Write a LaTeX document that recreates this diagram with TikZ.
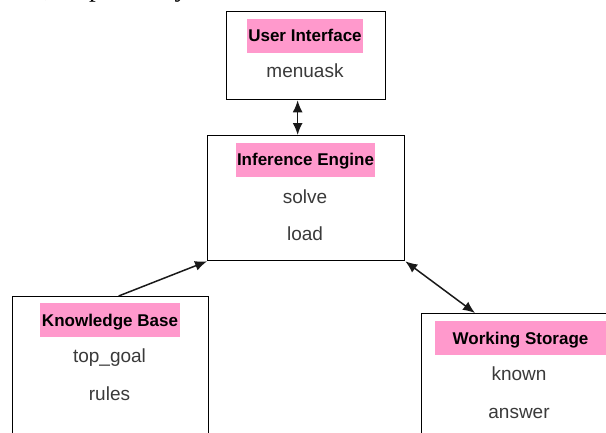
\documentclass[tikz,border=0pt]{standalone}
\usepackage{fontspec}
\setmainfont{Liberation Sans}
\newfontfamily\serifpart{Liberation Serif}
\usetikzlibrary{arrows.meta}
\definecolor{labelpink}{HTML}{FF99CC}
\definecolor{bodygray}{HTML}{3A3A3A}
\tikzset{
  box/.style={draw=black, line width=1.3pt, fill=white, anchor=north west, inner sep=0pt},
  title/.style={fill=labelpink, anchor=base, inner xsep=1.5pt, inner ysep=0pt,
    text height=22.7pt, text depth=11.3pt, font=\fontsize{17}{20}\selectfont\bfseries, text=black},
  entry/.style={anchor=base, inner sep=0pt, font=\fontsize{19}{22}\selectfont, text=bodygray},
  link/.style={draw=black!90, line width=1.5pt, -{Latex[length=12pt,width=10pt]}},
  twoway/.style={link, {Latex[length=12pt,width=10pt]}-{Latex[length=12pt,width=10pt]}}
}
\begin{document}
\begin{tikzpicture}[x=1pt, y=-1pt]
  \useasboundingbox (0,0) rectangle (606,432);
  \begin{scope}
    \clip (0,0) rectangle (606,432);
    % tail of the running text above the figure
    \node[anchor=base west, inner sep=0pt, font=\serifpart\fontsize{27}{30}\selectfont] (prose) at (44,-4) {, respectively};

    % module boxes
    \node[box, minimum width=159pt, minimum height=88pt] (ui) at (226,11) {};
    \node[box, minimum width=197pt, minimum height=125pt] (ie) at (207,135) {};
    \node[box, minimum width=196pt, minimum height=150pt] (kb) at (12,296) {};
    \node[box, minimum width=200pt, minimum height=130pt] (ws) at (421,313) {};

    % User Interface
    \node[title] (uiT) at (305,41.7) {User Interface};
    \node[entry] (uiA) at (305,77) {menuask};

    % Inference Engine
    \node[title] (ieT) at (305.5,165.7) {Inference Engine};
    \node[entry] (ieA) at (305,203) {solve};
    \node[entry] (ieB) at (305,240.7) {load};

    % Knowledge Base
    \node[title] (kbT) at (110,326) {Knowledge Base};
    \node[entry] (kbA) at (109.5,362) {top\_goal};
    \node[entry] (kbB) at (109.5,400.7) {rules};

    % Working Storage
    \node[title, minimum width=171pt] (wsT) at (520.5,344) {Working Storage};
    \node[entry] (wsA) at (519,380.7) {known};
    \node[entry] (wsB) at (519,418) {answer};

    % connectors
    \draw[twoway] ([xshift=-8.5pt]ui.south) -- ([xshift=-8.5pt]ie.north);
    \draw[link] ([xshift=8pt]kb.north) -- (ie.south west);
    \draw[twoway] (ie.south east) -- ([xshift=54pt]ws.north west);
  \end{scope}
\end{tikzpicture}
\end{document}
